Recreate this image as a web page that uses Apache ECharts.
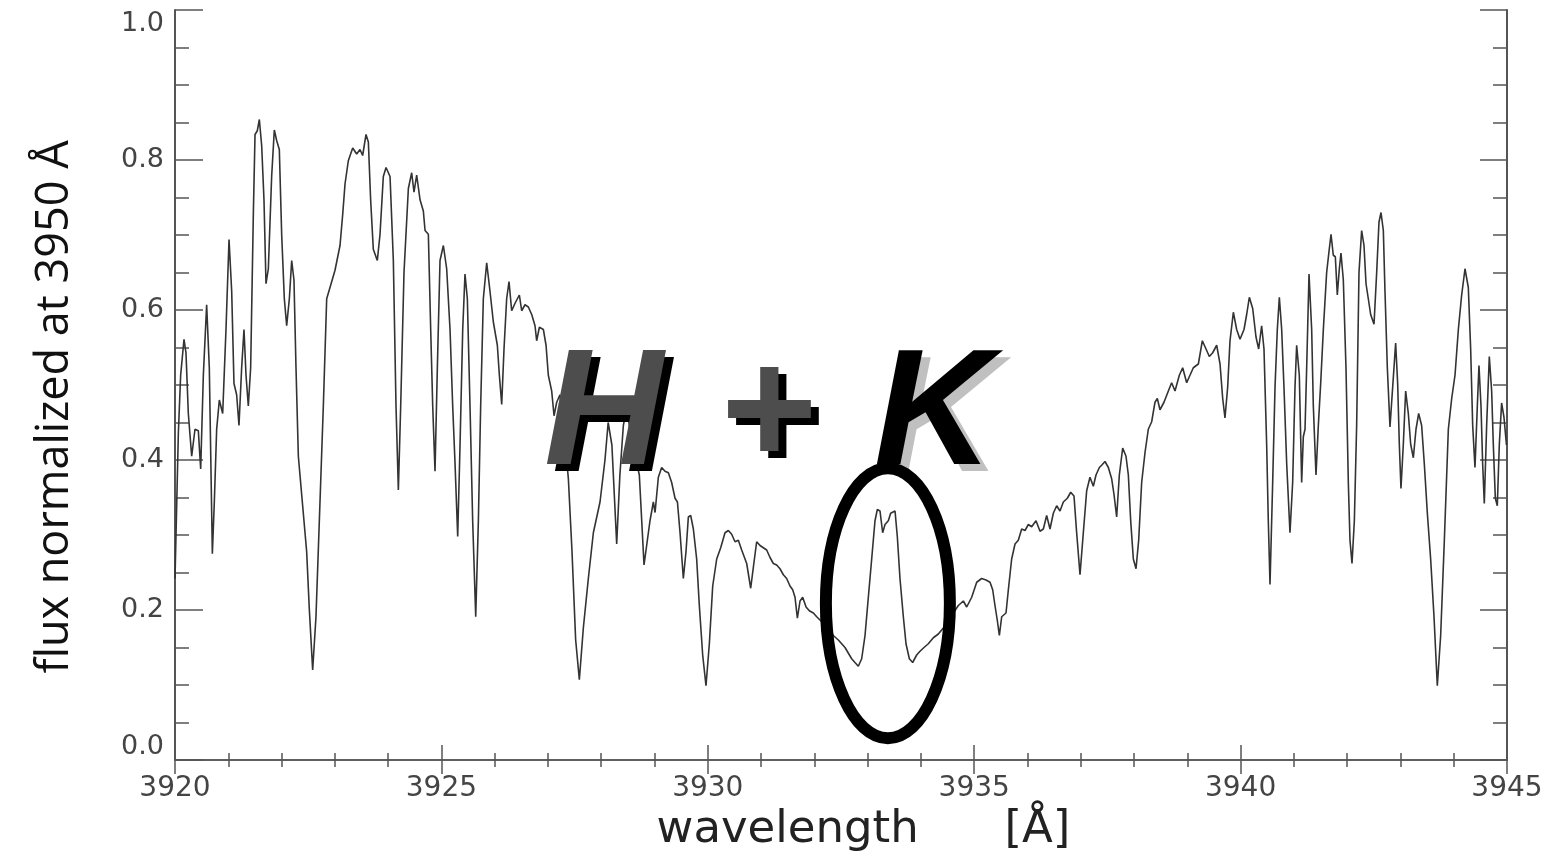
<!DOCTYPE html>
<html>
<head>
<meta charset="utf-8">
<title>H + K</title>
<script src="https://cdn.jsdelivr.net/npm/echarts@6/dist/echarts.min.js"></script>
<style>
  html, body { margin: 0; padding: 0; background: #fff; }
  #main { width: 1554px; height: 856px; }
</style>
</head>
<body>
<div id="main"></div>
<script>
// spectrum: [wavelength (A), flux]
var blueWing = [
  [3920.000, 0.242], [3920.063, 0.436], [3920.106, 0.513], [3920.169, 0.561], [3920.206, 0.543],
  [3920.250, 0.462], [3920.313, 0.405], [3920.375, 0.441], [3920.438, 0.439], [3920.482, 0.388],
  [3920.532, 0.513], [3920.594, 0.607], [3920.644, 0.523], [3920.701, 0.275], [3920.738, 0.344],
  [3920.782, 0.441], [3920.832, 0.480], [3920.895, 0.462], [3920.957, 0.574], [3921.014, 0.694],
  [3921.064, 0.625], [3921.107, 0.502], [3921.157, 0.487], [3921.201, 0.446], [3921.251, 0.523],
  [3921.295, 0.574], [3921.333, 0.513], [3921.376, 0.472], [3921.420, 0.523], [3921.470, 0.727],
  [3921.502, 0.834], [3921.545, 0.839], [3921.583, 0.854], [3921.627, 0.819], [3921.670, 0.747],
  [3921.708, 0.635], [3921.752, 0.655], [3921.814, 0.778], [3921.864, 0.840], [3921.908, 0.826],
  [3921.958, 0.814], [3922.002, 0.701], [3922.052, 0.615], [3922.096, 0.579], [3922.146, 0.615],
  [3922.190, 0.666], [3922.233, 0.640], [3922.271, 0.523], [3922.315, 0.405], [3922.396, 0.339],
  [3922.471, 0.278], [3922.521, 0.201], [3922.584, 0.120], [3922.646, 0.191], [3922.709, 0.319],
  [3922.784, 0.472], [3922.847, 0.615], [3922.909, 0.630], [3923.003, 0.653], [3923.097, 0.686],
  [3923.147, 0.727], [3923.191, 0.768], [3923.253, 0.799], [3923.335, 0.816], [3923.410, 0.808],
  [3923.472, 0.814], [3923.522, 0.806], [3923.585, 0.834], [3923.629, 0.824], [3923.672, 0.747],
  [3923.722, 0.681], [3923.797, 0.666], [3923.848, 0.701], [3923.910, 0.778], [3923.961, 0.790],
  [3924.036, 0.778], [3924.098, 0.666], [3924.148, 0.472], [3924.192, 0.360], [3924.236, 0.472],
  [3924.298, 0.650], [3924.380, 0.762], [3924.442, 0.783], [3924.486, 0.757], [3924.536, 0.780],
  [3924.599, 0.747], [3924.661, 0.732], [3924.693, 0.706], [3924.755, 0.701], [3924.799, 0.574],
  [3924.837, 0.472], [3924.880, 0.385], [3924.924, 0.523], [3924.974, 0.666], [3925.037, 0.686],
  [3925.099, 0.655], [3925.162, 0.574], [3925.212, 0.472], [3925.256, 0.395], [3925.306, 0.298],
  [3925.350, 0.421], [3925.400, 0.574], [3925.443, 0.648], [3925.487, 0.615], [3925.537, 0.472],
  [3925.587, 0.319], [3925.644, 0.191], [3925.694, 0.319], [3925.737, 0.472], [3925.787, 0.615],
  [3925.850, 0.663], [3925.912, 0.625], [3925.975, 0.584], [3926.050, 0.553], [3926.088, 0.513],
  [3926.132, 0.474], [3926.175, 0.548], [3926.225, 0.615], [3926.269, 0.638], [3926.319, 0.599],
  [3926.382, 0.609], [3926.463, 0.620], [3926.507, 0.599], [3926.569, 0.607], [3926.632, 0.604],
  [3926.695, 0.594], [3926.757, 0.579], [3926.788, 0.559], [3926.839, 0.577], [3926.914, 0.574],
  [3926.964, 0.553]
];

var hRegion = [
  [3927.007, 0.513], [3927.070, 0.492], [3927.114, 0.459], [3927.164, 0.477], [3927.226, 0.487],
  [3927.300, 0.440], [3927.383, 0.375], [3927.450, 0.280], [3927.520, 0.160], [3927.589, 0.107],
  [3927.664, 0.176], [3927.758, 0.242], [3927.852, 0.303], [3927.977, 0.344], [3928.070, 0.400],
  [3928.130, 0.450], [3928.200, 0.420], [3928.290, 0.288], [3928.350, 0.380], [3928.415, 0.446],
  [3928.480, 0.470], [3928.560, 0.430], [3928.715, 0.380], [3928.803, 0.260], [3928.915, 0.319],
  [3928.978, 0.344], [3929.010, 0.330], [3929.072, 0.377], [3929.134, 0.390], [3929.197, 0.385],
  [3929.260, 0.383], [3929.322, 0.370], [3929.385, 0.349], [3929.430, 0.344], [3929.479, 0.303],
  [3929.541, 0.242], [3929.591, 0.278], [3929.635, 0.324], [3929.679, 0.326], [3929.729, 0.308],
  [3929.791, 0.268], [3929.841, 0.206], [3929.904, 0.140], [3929.966, 0.099], [3930.029, 0.155],
  [3930.092, 0.232], [3930.167, 0.268], [3930.242, 0.283], [3930.323, 0.303], [3930.386, 0.306],
  [3930.448, 0.301], [3930.511, 0.291], [3930.573, 0.293], [3930.636, 0.280], [3930.730, 0.262],
  [3930.805, 0.229], [3930.855, 0.257], [3930.917, 0.291], [3930.980, 0.286], [3931.043, 0.283],
  [3931.105, 0.280], [3931.168, 0.270], [3931.230, 0.262], [3931.293, 0.260], [3931.355, 0.255],
  [3931.418, 0.247], [3931.480, 0.242], [3931.543, 0.232], [3931.593, 0.227], [3931.637, 0.217],
  [3931.681, 0.189], [3931.731, 0.212], [3931.781, 0.217], [3931.844, 0.204], [3931.906, 0.199],
  [3931.981, 0.196]
];

var kCore = [
  [3932.044, 0.191], [3932.200, 0.180], [3932.356, 0.166], [3932.450, 0.160], [3932.575, 0.150],
  [3932.700, 0.135], [3932.762, 0.130], [3932.825, 0.125], [3932.888, 0.135], [3932.951, 0.166],
  [3933.013, 0.217], [3933.076, 0.268], [3933.138, 0.319], [3933.182, 0.334], [3933.232, 0.332],
  [3933.282, 0.303], [3933.326, 0.314], [3933.388, 0.319], [3933.432, 0.329], [3933.514, 0.332],
  [3933.557, 0.298], [3933.607, 0.242], [3933.670, 0.191], [3933.720, 0.155], [3933.783, 0.135],
  [3933.845, 0.130], [3933.920, 0.140], [3933.983, 0.145], [3934.058, 0.150], [3934.139, 0.155],
  [3934.233, 0.163], [3934.327, 0.168], [3934.421, 0.176], [3934.515, 0.186], [3934.609, 0.196],
  [3934.702, 0.206], [3934.796, 0.212], [3934.859, 0.204], [3934.953, 0.217], [3935.047, 0.237],
  [3935.140, 0.242], [3935.222, 0.240], [3935.297, 0.237], [3935.347, 0.227], [3935.390, 0.206],
  [3935.434, 0.186], [3935.472, 0.166], [3935.516, 0.191], [3935.597, 0.196], [3935.641, 0.227],
  [3935.703, 0.268], [3935.766, 0.288], [3935.828, 0.293], [3935.891, 0.308], [3935.954, 0.306],
  [3936.016, 0.314], [3936.079, 0.311], [3936.160, 0.319]
];

var redWing = [
  [3936.235, 0.305], [3936.298, 0.308], [3936.360, 0.326], [3936.423, 0.308], [3936.485, 0.329],
  [3936.548, 0.339], [3936.610, 0.332], [3936.673, 0.344], [3936.748, 0.349], [3936.811, 0.357],
  [3936.873, 0.352], [3936.923, 0.303], [3936.986, 0.247], [3937.048, 0.303], [3937.111, 0.359],
  [3937.173, 0.377], [3937.236, 0.365], [3937.286, 0.380], [3937.349, 0.390], [3937.392, 0.393],
  [3937.455, 0.398], [3937.518, 0.390], [3937.580, 0.375], [3937.624, 0.354], [3937.674, 0.324],
  [3937.724, 0.380], [3937.787, 0.416], [3937.849, 0.405], [3937.893, 0.380], [3937.937, 0.319],
  [3937.987, 0.268], [3938.037, 0.255], [3938.087, 0.293], [3938.143, 0.370], [3938.206, 0.410],
  [3938.268, 0.441], [3938.331, 0.451], [3938.393, 0.477], [3938.437, 0.482], [3938.487, 0.467],
  [3938.562, 0.477], [3938.644, 0.492], [3938.706, 0.503], [3938.769, 0.492], [3938.850, 0.513],
  [3938.913, 0.523], [3938.988, 0.503], [3939.050, 0.513], [3939.113, 0.523], [3939.207, 0.528],
  [3939.282, 0.559], [3939.351, 0.548], [3939.413, 0.538], [3939.476, 0.543], [3939.551, 0.553],
  [3939.614, 0.528], [3939.664, 0.482], [3939.707, 0.456], [3939.757, 0.497], [3939.801, 0.559],
  [3939.864, 0.597], [3939.926, 0.574], [3939.989, 0.561], [3940.064, 0.574], [3940.114, 0.594],
  [3940.164, 0.617], [3940.227, 0.602], [3940.289, 0.564], [3940.339, 0.548], [3940.395, 0.579],
  [3940.439, 0.548], [3940.489, 0.421], [3940.520, 0.319], [3940.552, 0.234], [3940.602, 0.370],
  [3940.646, 0.497], [3940.689, 0.574], [3940.727, 0.617], [3940.771, 0.574], [3940.814, 0.497],
  [3940.865, 0.395], [3940.927, 0.303], [3940.977, 0.370], [3941.021, 0.497], [3941.052, 0.553],
  [3941.102, 0.513], [3941.146, 0.370], [3941.177, 0.431], [3941.209, 0.441], [3941.240, 0.523],
  [3941.284, 0.648], [3941.334, 0.574], [3941.365, 0.472], [3941.415, 0.380], [3941.459, 0.446],
  [3941.503, 0.502], [3941.553, 0.574], [3941.615, 0.650], [3941.659, 0.678], [3941.697, 0.701],
  [3941.740, 0.673], [3941.778, 0.671], [3941.815, 0.620], [3941.853, 0.655], [3941.884, 0.676],
  [3941.928, 0.640], [3941.978, 0.523], [3942.022, 0.370], [3942.053, 0.293], [3942.091, 0.262],
  [3942.135, 0.319], [3942.178, 0.446], [3942.222, 0.650], [3942.272, 0.706], [3942.316, 0.686],
  [3942.354, 0.635], [3942.397, 0.615], [3942.441, 0.594], [3942.504, 0.581], [3942.554, 0.650],
  [3942.597, 0.717], [3942.635, 0.730], [3942.679, 0.706], [3942.710, 0.625], [3942.754, 0.523],
  [3942.804, 0.444], [3942.854, 0.497], [3942.910, 0.556], [3942.948, 0.502], [3942.979, 0.421],
  [3943.010, 0.362], [3943.054, 0.421], [3943.098, 0.492], [3943.148, 0.462], [3943.192, 0.421],
  [3943.242, 0.403], [3943.292, 0.441], [3943.342, 0.462], [3943.398, 0.446], [3943.448, 0.395],
  [3943.505, 0.329], [3943.567, 0.268], [3943.630, 0.191], [3943.692, 0.099], [3943.755, 0.166],
  [3943.824, 0.293], [3943.899, 0.441], [3943.962, 0.482], [3944.024, 0.513], [3944.087, 0.574],
  [3944.149, 0.620], [3944.212, 0.655], [3944.274, 0.630], [3944.318, 0.548], [3944.356, 0.446],
  [3944.399, 0.390], [3944.443, 0.472], [3944.474, 0.526], [3944.512, 0.472], [3944.543, 0.395],
  [3944.574, 0.342], [3944.618, 0.446], [3944.668, 0.538], [3944.712, 0.492], [3944.743, 0.421],
  [3944.781, 0.349], [3944.818, 0.339], [3944.856, 0.421], [3944.899, 0.476], [3944.943, 0.457],
  [3944.990, 0.420]
];

var xRange = [3920, 3945];
var yRange = [0, 1];
var kEmission = [3933.38, 0.209]; // centre of the circled K core

var spectrum = blueWing.concat(hRegion, kCore, redWing);

var myChart = echarts.init(document.getElementById('main'));
var axisColor = '#555';

var option = {
  animation: false,
  backgroundColor: '#fff',
  grid: { left: 175, right: 47, top: 10, bottom: 96, containLabel: false, outerBoundsMode: 'none' },
  xAxis: [
    {
      type: 'value', min: xRange[0], max: xRange[1], interval: 5,
      name: 'wavelength      [\u00c5]',
      nameLocation: 'middle', nameGap: 42,
      nameTextStyle: { fontFamily: 'DejaVu Sans', fontSize: 45, color: '#222', padding: [0, 0, 0, 45] },
      axisLine: { lineStyle: { color: axisColor, width: 1.5 } },
      axisTick: { inside: true, length: 15, lineStyle: { color: axisColor, width: 1.5 } },
      minorTick: { show: true, splitNumber: 5, length: 7, lineStyle: { color: axisColor, width: 1.5 } },
      axisLabel: {
        fontFamily: 'DejaVu Sans', fontSize: 28, color: '#444', margin: 15,
        formatter: function (v) { return String(v); }
      },
      splitLine: { show: false }
    },
    {
      type: 'value', position: 'top', min: xRange[0], max: xRange[1], interval: 5,
      axisLine: { lineStyle: { color: axisColor, width: 1.5 } },
      axisTick: { inside: true, length: 14, lineStyle: { color: axisColor, width: 1.5 } },
      minorTick: { show: true, splitNumber: 5, length: 7, lineStyle: { color: axisColor, width: 1.5 } },
      axisLabel: { show: false },
      splitLine: { show: false }
    }
  ],
  yAxis: [
    {
      type: 'value', min: yRange[0], max: yRange[1], interval: 0.2,
      name: 'flux normalized at 3950 \u00c5',
      nameLocation: 'middle', nameGap: 97,
      nameTextStyle: { fontFamily: 'Open Sans', fontSize: 45, color: '#111', padding: [0, 44, 0, 0] },
      axisLine: { lineStyle: { color: axisColor, width: 2 } },
      axisTick: { inside: true, length: 28, lineStyle: { color: axisColor, width: 1.5 } },
      minorTick: { show: true, splitNumber: 4, length: 14, lineStyle: { color: axisColor, width: 1.5 } },
      axisLabel: {
        fontFamily: 'DejaVu Sans', fontSize: 27, color: '#444', margin: 11,
        verticalAlignMaxLabel: 'top', verticalAlignMinLabel: 'bottom',
        formatter: function (v) { return v.toFixed(1); }
      },
      splitLine: { show: false }
    },
    {
      type: 'value', position: 'right', min: yRange[0], max: yRange[1], interval: 0.2,
      axisLine: { lineStyle: { color: axisColor, width: 2 } },
      axisTick: { inside: true, length: 27, lineStyle: { color: axisColor, width: 1.5 } },
      minorTick: { show: true, splitNumber: 4, length: 14, lineStyle: { color: axisColor, width: 1.5 } },
      axisLabel: { show: false },
      splitLine: { show: false }
    }
  ],
  series: [
    {
      type: 'line',
      data: spectrum,
      showSymbol: false,
      lineStyle: { color: '#333', width: 1.6 },
      z: 2
    }
  ]
};
myChart.setOption(option);

// annotation: "H + K" with drop shadows and the ellipse round the K core
var c = myChart.convertToPixel({ gridIndex: 0 }, kEmission);
var bigFont = 'italic bold 165px "Liberation Sans", Arial, sans-serif';
function letter(txt, x, y, fill) {
  return {
    type: 'text', z: 100, x: x, y: y,
    style: { text: txt, font: bigFont, fill: fill, textAlign: 'left', textVerticalAlign: 'bottom' }
  };
}
myChart.setOption({
  graphic: [
    letter('H', 552, 508, '#000'),
    letter('H', 544, 501, '#4d4d4d'),
    letter('+', 726, 508, '#000'),
    letter('+', 718, 501, '#4d4d4d'),
    letter('K', 882, 508, '#c0c0c0'),
    letter('K', 874, 501, '#000'),
    {
      type: 'ellipse', z: 101,
      shape: { cx: c[0], cy: c[1], rx: 62, ry: 135 },
      style: { fill: 'none', stroke: '#000', lineWidth: 12 }
    }
  ]
});
</script>
</body>
</html>
